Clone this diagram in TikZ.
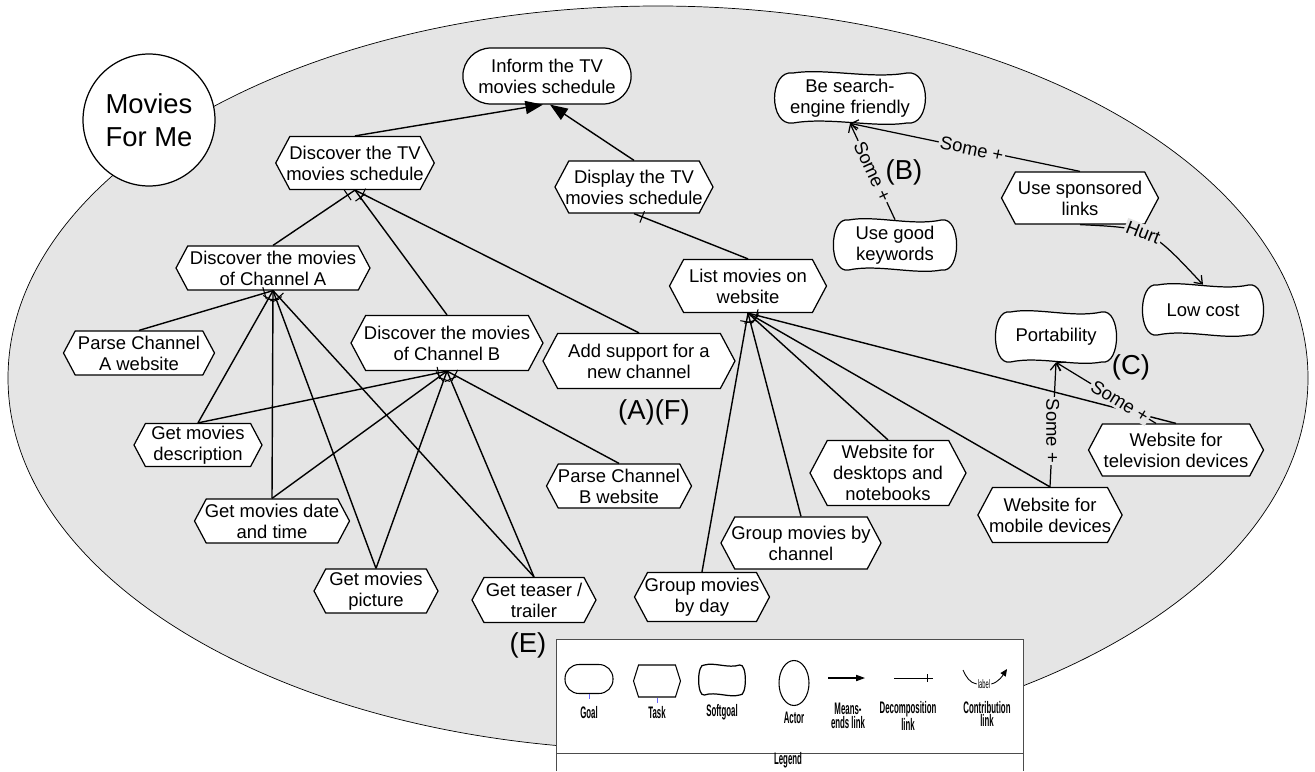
\documentclass[tikz,border=0pt]{standalone}
\usepackage{fontspec}
\setmainfont{Liberation Sans}
\newfontfamily\legendfont[FakeStretch=0.47]{Liberation Sans}
\usepackage{tikz}
\usetikzlibrary{shapes.misc,shapes.symbols,shapes.geometric,arrows.meta,decorations.markings}

\newcommand{\mainsize}{\fontsize{10.5}{12}\selectfont}
\newcommand{\actorsize}{\fontsize{15.6}{18.8}\selectfont}
\newcommand{\legsize}{\fontsize{9.5}{7.6}\selectfont\legendfont\bfseries}

\tikzset{
  task/.style 2 args={draw, fill=white, line width=0.7pt, shape=signal, signal to=east and west,
    signal pointer angle=124, inner xsep=-2pt, inner ysep=1pt, align=center, font=\mainsize,
    minimum width=#1cm, minimum height=#2cm},
  goal/.style={draw, fill=white, line width=0.7pt, rounded rectangle, align=center, font=\mainsize},
  softgoal/.style={inner sep=0pt, align=center, font=\mainsize},
  softline/.style={draw, fill=white, line width=0.7pt},
  meansend/.style={line width=0.8pt, -{Triangle[length=10pt,width=7.5pt]}},
  decomp/.style={line width=0.8pt, postaction={decorate, decoration={markings,
    mark=at position -5pt with {\draw[line width=0.6pt] (0,-3.5pt) -- (0,3.5pt);}}}},
  contrib/.style={line width=0.7pt, -{Straight Barb[length=4pt,width=6pt]}},
  contlabel/.style={fill=gray!20, inner sep=1pt, font=\mainsize},
  tag/.style={font=\actorsize},
  legtext/.style={font=\legsize, align=center, inner sep=0pt}
}

% softgoal: name, centre, half width, half height, text
\newcommand{\softgoal}[5]{%
  \begin{scope}[shift={#2}]
    \draw[softline] (-0.8*#3,-#4) .. controls (-0.35*#3,-1.2*#4) and (0.3*#3,-0.75*#4) .. (0.8*#3,-#4)
      .. controls (1.15*#3,-1.15*#4) and (1.15*#3,1.15*#4) .. (0.8*#3,#4)
      .. controls (0.35*#3,1.2*#4) and (-0.3*#3,0.75*#4) .. (-0.8*#3,#4)
      .. controls (-1.15*#3,1.15*#4) and (-1.15*#3,-1.15*#4) .. cycle;
  \end{scope}
  \node[softgoal, minimum width=2.08*#3*0.02cm, minimum height=2*#4*0.02cm] (#1) at #2 {#5};}

\begin{document}
\begin{tikzpicture}[x=0.02cm, y=-0.02cm]
  \useasboundingbox (0,0) rectangle (1315,771);

  % actor boundary
  \draw[fill=gray!20, line width=0.4pt] (658,378) ellipse [x radius=650, y radius=372];
  \node[draw, fill=white, circle, line width=0.7pt, minimum size=2.64cm, align=center, font=\actorsize] (actor) at (149,120) {Movies\\For Me};

  % legend box
  \draw[fill=white, draw=black!70, line width=0.5pt] (556,771) -- (556,639) -- (1023,639) -- (1023,771);
  \draw[draw=black!70, line width=0.5pt] (556,753) -- (1023,753);

  % goals and tasks
  \node[goal, minimum width=3.6cm, minimum height=1.12cm] (inform) at (547,76) {Inform the TV\\movies schedule};
  \node[task={3.16}{1.06}] (distv) at (355,163) {Discover the TV\\movies schedule};
  \node[task={3.16}{1.04}] (disp) at (634,187) {Display the TV\\movies schedule};
  \node[task={3.14}{1.06}] (list) at (748,286) {List movies on\\website};
  \node[task={3.88}{0.88}] (chA) at (273,268) {Discover the movies\\of Channel A};
  \node[task={3.84}{1.10}] (chB) at (447,343) {Discover the movies\\of Channel B};
  \node[task={3.84}{1.10}] (addch) at (639,361) {Add support for a\\new channel};
  \node[task={3.02}{0.88}] (parseA) at (139,353) {Parse Channel\\A website};
  \node[task={2.56}{0.86}] (desc) at (198,445) {Get movies\\description};
  \node[task={3.10}{0.88}] (date) at (272,521) {Get movies date\\and time};
  \node[task={2.48}{0.88}] (pic) at (376,591) {Get movies\\picture};
  \node[task={2.48}{0.90}] (teaser) at (534,600) {Get teaser /\\trailer};
  \node[task={2.90}{0.88}] (parseB) at (619,486) {Parse Channel\\B website};
  \node[task={2.70}{0.98}] (byday) at (702,597) {Group movies\\by day};
  \node[task={3.12}{1.04}] (bychan) at (801,543) {Group movies by\\channel};
  \node[task={3.12}{1.30}] (desk) at (888,473) {Website for\\desktops and\\notebooks};
  \node[task={2.84}{1.10}] (mobile) at (1050,515) {Website for\\mobile devices};
  \node[task={3.50}{1.04}] (tv) at (1176,450) {Website for\\television devices};
  \node[task={3.14}{1.04}] (spons) at (1080,198) {Use sponsored\\links};

  % softgoals
  \softgoal{sef}{(850,98)}{71}{25}{Be search-\\engine friendly}
  \softgoal{kw}{(895,245)}{58}{25}{Use good\\keywords}
  \softgoal{low}{(1203,310)}{57}{25}{Low cost}
  \softgoal{port}{(1056,337)}{57}{25}{Portability}

  % means-ends links
  \draw[meansend] (distv.north) -- ([xshift=-0.08cm]inform.south);
  \draw[meansend] (disp.north) -- ([xshift=0.06cm]inform.south);

  % decomposition links
  \draw[decomp] (chA.north) -- (distv.south);
  \draw[decomp] (chB.north) -- (distv.south);
  \draw[decomp] (addch.north) -- (distv.south);
  \draw[decomp] (list.north) -- (disp.south);
  \foreach \sub in {parseA,desc,date,pic,teaser}
    \draw[decomp] (\sub.north) -- (chA.south);
  \foreach \sub in {desc,date,pic,teaser,parseB}
    \draw[decomp] (\sub.north) -- (chB.south);
  \foreach \sub in {byday,bychan,desk,mobile,tv}
    \draw[decomp] (\sub.north) -- (list.south);

  % contribution links
  \draw[contrib] (kw.north) -- node[contlabel, sloped] {Some +} (sef.south);
  \draw[contrib] (spons.north) -- node[contlabel, sloped, pos=0.47] {Some +} (sef.south);
  \draw[contrib] (spons.south) .. controls (1150,228) .. node[contlabel, sloped, pos=0.45] {Hurt} (low.north);
  \draw[contrib] (mobile.north) -- node[contlabel, rotate=-90, pos=0.45] {Some +} (port.south);
  \draw[contrib] ([xshift=-0.4cm]tv.north) -- node[contlabel, sloped, pos=0.36] {Some +} (port.south);

  % tags
  \node[tag] (tagB) at (904,172) {(B)};
  \node[tag] (tagC) at (1131,367) {(C)};
  \node[tag] (tagAF) at (654,412) {(A)(F)};
  \node[tag] (tagE) at (528,645) {(E)};

  % legend
  \node[draw, rectangle, rounded corners=8pt, line width=0.6pt, minimum width=0.96cm, minimum height=0.58cm] (legGoal) at (589,679) {};
  \draw[blue!60, line width=0.3pt] (legGoal.south) -- ++(0,5);
  \node[legtext] (legGoalTxt) at (589,713) {Goal};
  \node[draw, shape=signal, signal to=east and west, signal pointer angle=145, line width=0.6pt,
    inner sep=0pt, minimum width=0.94cm, minimum height=0.64cm] (legTask) at (657,681) {};
  \draw[blue!60, line width=0.3pt] (legTask.south) -- ++(0,5);
  \node[legtext] (legTaskTxt) at (657,713) {Task};
  \softgoal{legSoft}{(722,680)}{22}{15}{}
  \node[legtext] (legSoftTxt) at (722,712) {Softgoal};
  \node[draw, ellipse, line width=0.6pt, minimum width=0.6cm, minimum height=0.9cm] (legActor) at (794,683) {};
  \node[legtext] (legActorTxt) at (794,718) {Actor};
  \coordinate (me1) at (828,678);
  \coordinate (me2) at (865,678);
  \draw[line width=0.6pt, -{Triangle[length=5pt,width=3.5pt]}] (me1) -- (me2);
  \node[legtext] (legMeTxt) at (848,716) {Means-\\ends link};
  \coordinate (dc1) at (894,678);
  \coordinate (dc2) at (933,678);
  \draw[line width=0.5pt, postaction={decorate, decoration={markings,
    mark=at position -3pt with {\draw[line width=0.4pt] (0,-2pt) -- (0,2pt);}}}] (dc1) -- (dc2);
  \node[legtext] (legDcTxt) at (908,716) {Decomposition\\link};
  \node[font=\fontsize{7}{7}\selectfont\legendfont, inner sep=0.5pt] (leglabel) at (984,684) {label};
  \coordinate (ct1) at (963,670);
  \coordinate (ct2) at (1007,669);
  \draw[line width=0.5pt] (ct1) .. controls (966,677) and (970,683) .. (leglabel.west);
  \draw[line width=0.5pt, -{Triangle[length=4pt,width=3.5pt]}] (leglabel.east) .. controls (999,682) and (1003,675) .. (ct2);
  \node[legtext] (legCtTxt) at (987,714) {Contribution\\link};
  \node[legtext] (legTitle) at (788,760) {Legend};
\end{tikzpicture}
\end{document}
